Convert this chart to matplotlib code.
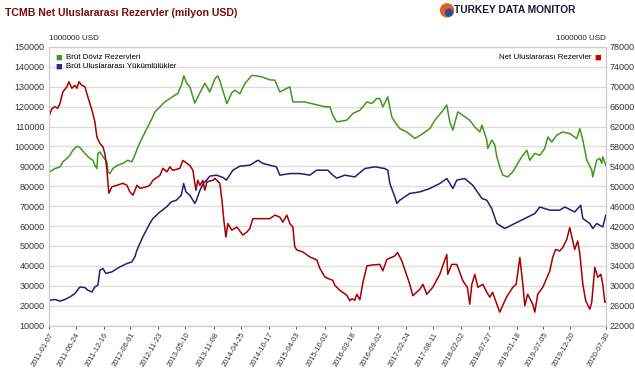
import matplotlib
matplotlib.use('Agg')
import matplotlib.pyplot as plt
from matplotlib.patches import Ellipse
import pandas as pd

plt.rcParams['font.family'] = ['Liberation Sans', 'DejaVu Sans']

#----------------------------------------
# Brut Doviz Rezervleri (left axis)
doviz_dates = ['2011-01-07', '2011-01-13', '2011-02-14', '2011-03-17', '2011-04-05', '2011-04-30',
               '2011-05-19', '2011-06-06', '2011-07-02', '2011-07-20', '2011-08-21', '2011-09-21',
               '2011-10-10', '2011-10-22', '2011-11-04', '2011-11-10', '2011-11-23', '2011-12-12',
               '2012-01-06', '2012-01-12', '2012-01-24', '2012-02-12', '2012-03-14', '2012-04-15',
               '2012-05-16', '2012-06-10', '2012-06-29', '2012-07-18', '2012-08-12', '2012-09-12',
               '2012-10-14', '2012-11-02', '2012-12-03', '2013-01-03', '2013-02-04', '2013-03-07',
               '2013-03-26', '2013-04-20', '2013-05-02', '2013-05-21', '2013-06-09', '2013-06-28',
               '2013-07-10', '2013-08-11', '2013-09-11', '2013-10-12', '2013-11-13', '2013-12-01',
               '2013-12-14', '2014-01-27', '2014-02-27', '2014-03-18', '2014-04-18', '2014-05-20',
               '2014-07-03', '2014-09-03', '2014-10-23', '2014-11-24', '2014-12-25', '2015-02-26',
               '2015-03-17', '2015-05-31', '2015-08-20', '2015-10-03', '2015-11-04', '2015-11-22',
               '2015-12-17', '2016-02-18', '2016-03-27', '2016-05-10', '2016-06-23', '2016-07-24',
               '2016-08-24', '2016-09-12', '2016-10-01', '2016-11-01', '2016-11-26', '2016-12-15',
               '2017-01-15', '2017-02-28', '2017-04-20', '2017-06-09', '2017-07-23', '2017-08-23',
               '2017-10-06', '2017-11-06', '2017-11-25', '2017-12-14', '2018-01-14', '2018-02-14',
               '2018-03-30', '2018-05-01', '2018-06-01', '2018-06-14', '2018-07-15', '2018-07-21',
               '2018-08-15', '2018-09-03', '2018-09-16', '2018-10-04', '2018-10-23', '2018-11-23',
               '2018-12-25', '2019-01-25', '2019-02-19', '2019-03-23', '2019-04-10', '2019-05-12',
               '2019-06-12', '2019-07-13', '2019-08-02', '2019-08-26', '2019-09-27', '2019-11-03',
               '2019-12-17', '2020-01-30', '2020-02-18', '2020-03-08', '2020-04-02', '2020-05-03',
               '2020-05-09', '2020-06-03', '2020-06-22', '2020-07-05', '2020-07-11', '2020-07-30']
doviz = [86600, 87300, 88900, 89700, 92300, 94000,
         95600, 98100, 100100, 99500, 96500, 94000,
         93100, 90600, 88900, 96500, 97300, 94800,
         92300, 87300, 86400, 88900, 90600, 91500,
         93100, 92300, 95600, 99800, 104000, 109000,
         114000, 117400, 119900, 122400, 124100, 125800,
         126600, 131700, 135500, 131700, 130000, 125000,
         121800, 127000, 131800, 127400, 134000, 135500,
         133000, 121500, 127000, 128300, 126500, 131600,
         135800, 135000, 133500, 133300, 127400, 130000,
         122400, 122400, 120800, 120000, 119900, 115700,
         112400, 113200, 116600, 118200, 122400, 121600,
         124100, 124100, 119900, 124900, 114900, 112400,
         109000, 107300, 104000, 106500, 109000, 113200,
         117400, 120800, 112400, 108200, 117400, 115700,
         113200, 109800, 107300, 110700, 103200, 99000,
         103200, 100700, 94800, 89800, 85600, 84700,
         87300, 91500, 94800, 98100, 93100, 96500,
         95600, 99000, 104800, 102300, 105700, 107300,
         106500, 104000, 109000, 103200, 93100, 88100,
         84700, 93100, 94000, 91500, 94800, 90600]

#----------------------------------------
# Brut Uluslararasi Yukumlulukler (left axis)
yuk_dates = ['2011-01-07', '2011-02-14', '2011-03-17', '2011-04-17', '2011-05-19', '2011-06-19',
             '2011-07-20', '2011-08-21', '2011-09-08', '2011-10-04', '2011-10-22', '2011-11-10',
             '2011-11-23', '2011-12-12', '2011-12-30', '2012-02-06', '2012-03-27', '2012-05-10',
             '2012-06-10', '2012-06-29', '2012-07-12', '2012-08-18', '2012-10-01', '2012-10-20',
             '2012-12-03', '2013-01-13', '2013-02-13', '2013-03-16', '2013-04-16', '2013-05-01',
             '2013-05-15', '2013-06-09', '2013-07-10', '2013-07-20', '2013-08-11', '2013-09-01',
             '2013-09-22', '2013-10-12', '2013-11-23', '2014-01-03', '2014-01-24', '2014-03-06',
             '2014-04-18', '2014-06-20', '2014-08-10', '2014-09-10', '2014-10-23', '2014-12-03',
             '2014-12-25', '2015-02-26', '2015-04-30', '2015-07-01', '2015-08-13', '2015-10-22',
             '2015-11-22', '2015-12-17', '2016-02-06', '2016-04-08', '2016-06-10', '2016-08-12',
             '2016-10-13', '2016-11-01', '2016-11-14', '2016-12-15', '2016-12-28', '2017-01-15',
             '2017-03-19', '2017-05-21', '2017-07-23', '2017-09-23', '2017-11-06', '2017-12-14',
             '2018-01-08', '2018-02-27', '2018-04-18', '2018-06-14', '2018-07-15', '2018-08-15',
             '2018-09-16', '2018-11-05', '2019-01-06', '2019-03-10', '2019-05-12', '2019-06-12',
             '2019-08-14', '2019-10-15', '2019-11-16', '2020-01-17', '2020-02-24', '2020-03-08',
             '2020-04-21', '2020-05-09', '2020-06-03', '2020-06-22', '2020-07-11', '2020-07-30']
yukumluluk = [22700, 23100, 22300, 23100, 24400, 26100,
              29400, 29100, 27800, 26900, 29400, 30300,
              37800, 38700, 36200, 37000, 39500, 41200,
              42000, 44500, 47900, 54600, 61300, 63800,
              67100, 69600, 72200, 73000, 75500, 81400,
              77200, 75500, 71400, 73000, 78000, 81400,
              83100, 85100, 85600, 84400, 83100, 88100,
              90100, 90600, 93100, 91500, 90600, 89800,
              85600, 86400, 86400, 85600, 88100, 88100,
              85600, 84100, 85600, 84700, 88900, 89800,
              88900, 88100, 81400, 74700, 71400, 73000,
              76400, 77200, 78900, 81400, 83900, 78900,
              83100, 83900, 80500, 73900, 73000, 68800,
              61300, 58800, 61300, 63800, 66300, 69600,
              68000, 68000, 69600, 67100, 70500, 63800,
              61300, 58800, 61300, 60400, 59600, 65500]

#----------------------------------------
# Net Uluslararasi Rezervler (right axis)
net_dates = ['2011-01-07', '2011-01-26', '2011-02-14', '2011-03-04', '2011-03-17', '2011-04-05',
             '2011-04-30', '2011-05-12', '2011-05-31', '2011-06-19', '2011-07-02', '2011-07-14',
             '2011-08-02', '2011-08-21', '2011-09-08', '2011-10-04', '2011-10-22', '2011-11-04',
             '2011-11-23', '2011-12-12', '2011-12-24', '2012-01-06', '2012-01-18', '2012-02-06',
             '2012-03-08', '2012-04-15', '2012-05-10', '2012-05-29', '2012-06-17', '2012-07-12',
             '2012-07-30', '2012-09-12', '2012-10-01', '2012-10-20', '2012-12-03', '2012-12-22',
             '2013-01-16', '2013-02-04', '2013-02-22', '2013-04-07', '2013-04-26', '2013-06-09',
             '2013-06-28', '2013-07-17', '2013-07-29', '2013-08-11', '2013-08-29', '2013-09-11',
             '2013-09-24', '2013-10-31', '2013-11-13', '2013-12-14', '2013-12-27', '2014-01-08',
             '2014-01-21', '2014-02-02', '2014-02-27', '2014-03-31', '2014-05-07', '2014-06-01',
             '2014-06-20', '2014-07-09', '2014-08-22', '2014-10-23', '2014-11-24', '2014-12-25',
             '2015-01-13', '2015-02-07', '2015-02-26', '2015-03-17', '2015-03-29', '2015-04-11',
             '2015-05-18', '2015-07-01', '2015-08-14', '2015-09-02', '2015-10-03', '2015-10-22',
             '2015-11-22', '2015-12-05', '2016-01-05', '2016-02-18', '2016-03-08', '2016-03-21',
             '2016-04-08', '2016-04-21', '2016-05-10', '2016-05-28', '2016-06-23', '2016-07-30',
             '2016-09-12', '2016-10-01', '2016-10-26', '2016-12-15', '2017-01-01', '2017-01-28',
             '2017-03-19', '2017-04-07', '2017-05-21', '2017-06-09', '2017-07-04', '2017-08-10',
             '2017-09-23', '2017-11-06', '2017-11-12', '2017-12-07', '2018-01-08', '2018-02-15',
             '2018-03-15', '2018-03-30', '2018-04-12', '2018-05-01', '2018-05-20', '2018-06-20',
             '2018-07-15', '2018-08-03', '2018-08-20', '2018-10-04', '2018-11-15', '2018-12-25',
             '2019-01-15', '2019-02-07', '2019-02-26', '2019-03-10', '2019-03-28', '2019-04-29',
             '2019-05-12', '2019-05-30', '2019-07-01', '2019-08-14', '2019-09-01', '2019-09-20',
             '2019-10-15', '2019-11-03', '2019-11-28', '2019-12-17', '2019-12-29', '2020-01-17',
             '2020-02-05', '2020-02-18', '2020-03-08', '2020-03-26', '2020-04-21', '2020-05-03',
             '2020-05-22', '2020-06-10', '2020-06-29', '2020-07-11', '2020-07-24', '2020-07-30']
net = [64000, 65600, 66000, 65700, 66600, 69000,
       70000, 71000, 69700, 70300, 69700, 71000,
       70300, 70000, 68000, 65300, 63000, 59900,
       58600, 57900, 56600, 53200, 48600, 49900,
       50200, 50600, 50200, 48900, 48200, 50200,
       49600, 49900, 50200, 51200, 52200, 53600,
       52900, 53900, 53200, 53600, 55200, 54200,
       53200, 49200, 51200, 50200, 51200, 49200,
       50900, 51200, 51600, 50600, 47200, 43200,
       39800, 42500, 41200, 41800, 40200, 40800,
       41500, 43500, 43500, 43500, 44200, 43800,
       42800, 44200, 42500, 41800, 37800, 37200,
       36800, 35800, 35200, 33500, 31800, 31500,
       31100, 30100, 29100, 28100, 27000, 27400,
       27100, 28300, 27200, 30500, 34000, 34200,
       34300, 33000, 35300, 36000, 36700, 35000,
       30300, 28000, 29300, 30300, 28300, 29700,
       32300, 36300, 32300, 34300, 34300, 31000,
       29700, 26300, 30300, 32300, 29700, 30300,
       28700, 27700, 28700, 24700, 27700, 29700,
       30300, 35700, 30300, 26000, 28300, 26300,
       24700, 28300, 29700, 33000, 35700, 37300,
       37000, 37700, 39300, 41700, 40000, 37300,
       39000, 36500, 30300, 27000, 25300, 26700,
       33700, 31700, 32300, 30300, 26700, 26800]

tick_dates = ['2011-01-07', '2011-06-24', '2011-12-16', '2012-06-01', '2012-11-23', '2013-05-10',
              '2013-11-08', '2014-04-25', '2014-10-17', '2015-04-03', '2015-10-02', '2016-03-18',
              '2016-09-02', '2017-02-24', '2017-08-11', '2018-02-02', '2018-07-27', '2019-01-18',
              '2019-07-05', '2019-12-20', '2020-07-30']

#----------------------------------------
fig = plt.figure(figsize=(6.35, 3.7), dpi=100)
ax = fig.add_axes([0.077, 0.12, 0.877, 0.753])
ax2 = ax.twinx()

ax.plot(pd.to_datetime(doviz_dates), doviz, color='#3f9a1c', lw=1.1)
ax.plot(pd.to_datetime(yuk_dates), yukumluluk, color='#1f1f78', lw=1.1)
ax2.plot(pd.to_datetime(net_dates), net, color='#a80000', lw=1.1)

ax.set_ylim(10000, 150000)
ax.set_yticks(range(10000, 150001, 10000))
ax2.set_ylim(22000, 78000)
ax2.set_yticks(range(22000, 78001, 4000))
ax.set_xlim(pd.Timestamp('2011-01-07'), pd.Timestamp('2020-07-30'))

ax.grid(axis='y', color='#dddddd', lw=1)
ax.set_axisbelow(True)
ax.set_xticks(pd.to_datetime(tick_dates))
ax.set_xticklabels(tick_dates, rotation=60, ha='right', va='top', rotation_mode='anchor')

for a in (ax, ax2):
    a.tick_params(labelsize=6.5, colors='#333333', length=2, width=0.6)
    for s in a.spines.values():
        s.set_color('#cccccc')
ax.tick_params(axis='x', labelsize=5.5, pad=2)
ax.tick_params(axis='y', length=0, pad=3)
ax2.tick_params(axis='y', length=0, pad=3)

fig.text(0.008, 0.966, 'TCMB Net Uluslararası Rezervler (milyon USD)', color='#7a0a0a',
         fontsize=7.6, fontweight='bold', va='center')
fig.text(0.077, 0.895, '1000000 USD', fontsize=5.8, color='#222222', va='center')
fig.text(0.954, 0.895, '1000000 USD', fontsize=5.8, color='#222222', va='center', ha='right')

# logo
fig.text(0.715, 0.972, 'TURKEY DATA MONITOR', fontsize=7.4, fontweight='bold', color='#1a1a3a',
         ha='left', va='center')
fig.add_artist(Ellipse((0.704, 0.972), 13 / 635, 13 / 370, transform=fig.transFigure,
                       color='#e0602a'))
fig.add_artist(Ellipse((0.707, 0.966), 7 / 635, 7 / 370, transform=fig.transFigure,
                       color='#2b4e9a'))

# legends
ax.text(0.012, 0.963, '■', transform=ax.transAxes, color='#3f9a1c', fontsize=8, va='center')
ax.text(0.031, 0.963, 'Brüt Döviz Rezervleri', transform=ax.transAxes, fontsize=5.7, va='center')
ax.text(0.012, 0.93, '■', transform=ax.transAxes, color='#2a2a8a', fontsize=8, va='center')
ax.text(0.031, 0.93, 'Brüt Uluslararası Yükümlülükler', transform=ax.transAxes, fontsize=5.7, va='center')
ax.text(0.975, 0.963, 'Net Uluslararası Rezervler', transform=ax.transAxes, fontsize=5.7,
        va='center', ha='right')
ax.text(0.992, 0.963, '■', transform=ax.transAxes, color='#cc0000', fontsize=8, va='center', ha='right')

fig.savefig('out.png', dpi=100)
